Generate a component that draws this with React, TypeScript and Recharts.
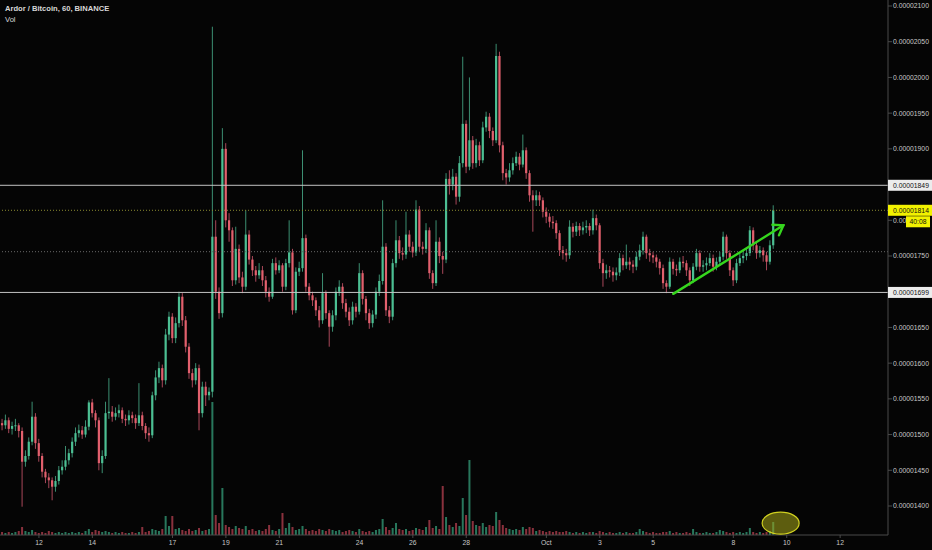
import React from 'react';
import { ComposedChart, Bar, XAxis, YAxis, ReferenceLine, ReferenceDot } from 'recharts';

// 3h candles, x = hours from Sep 12 00:00
const START_HOUR = -33;
const STEP = 3;
const firstOpen = 1516;

// prices in 1e-8 BTC
const closes = [
  1513, 1520, 1508, 1512, 1513, 1505, 1462, 1470, 1490, 1525,
  1488, 1470, 1448, 1440, 1436, 1427, 1435, 1450, 1455, 1464,
  1474, 1490, 1502, 1506, 1500, 1511, 1545, 1530, 1520, 1460,
  1470, 1530, 1532, 1525, 1530, 1534, 1522, 1520, 1527, 1523,
  1516, 1527, 1512, 1502, 1499, 1555, 1580, 1593, 1576, 1640,
  1665, 1635, 1656, 1693, 1660, 1623, 1586, 1576, 1593, 1530,
  1567, 1555, 1560, 1777, 1700, 1670, 1900, 1800, 1786, 1716,
  1760, 1720, 1707, 1780, 1745, 1730, 1723, 1730, 1716, 1700,
  1693, 1740, 1730, 1737, 1707, 1740, 1755, 1674, 1728, 1733,
  1775, 1707, 1695, 1688, 1674, 1660, 1698, 1670, 1651, 1667,
  1700, 1707, 1684, 1672, 1660, 1679, 1672, 1726, 1690, 1670,
  1656, 1668, 1700, 1715, 1763, 1674, 1665, 1740, 1772, 1754,
  1752, 1780, 1763, 1755, 1815, 1763, 1760, 1786, 1726, 1712,
  1770, 1750, 1745, 1858, 1850, 1861, 1833, 1880, 1935, 1875,
  1912, 1880, 1905, 1884, 1930, 1945, 1925, 1912, 2030, 1905,
  1866, 1860, 1870, 1880, 1889, 1878, 1898, 1866, 1835, 1828,
  1835, 1828, 1812, 1805, 1798, 1796, 1782, 1758, 1754, 1751,
  1791, 1784, 1792, 1786, 1790, 1792, 1786, 1803, 1793, 1740,
  1726, 1730, 1728, 1723, 1727, 1747, 1737, 1742, 1738, 1735,
  1749, 1758, 1777, 1754, 1751, 1748, 1742, 1733, 1712, 1707,
  1742, 1732, 1730, 1742, 1740, 1730, 1716, 1735, 1754, 1735,
  1737, 1740, 1747, 1735, 1742, 1749, 1777, 1754, 1730, 1716,
  1740, 1747, 1750, 1754, 1786, 1765, 1754, 1758, 1751, 1742,
  1765, 1814,
];

const highs = [
  1522, 1528, 1524, 1518, 1522, 1516, 1510, 1478, 1496, 1546,
  1530, 1494, 1474, 1452, 1446, 1440, 1442, 1456, 1464, 1484,
  1480, 1496, 1510, 1514, 1512, 1520, 1548, 1550, 1534, 1524,
  1478, 1546, 1579, 1540, 1538, 1542, 1538, 1528, 1534, 1532,
  1528, 1572, 1532, 1516, 1510, 1560, 1590, 1602, 1598, 1648,
  1672, 1670, 1664, 1700, 1698, 1666, 1628, 1592, 1600, 1598,
  1574, 1574, 1566, 2071, 1800, 1706, 1929, 1908, 1810, 1790,
  1791, 1766, 1728, 1814, 1786, 1750, 1736, 1740, 1736, 1722,
  1706, 1746, 1748, 1744, 1740, 1746, 1800, 1760, 1734, 1742,
  1898, 1780, 1712, 1700, 1692, 1680, 1726, 1702, 1674, 1674,
  1706, 1716, 1712, 1690, 1678, 1686, 1684, 1740, 1730, 1694,
  1676, 1674, 1706, 1724, 1828, 1768, 1680, 1746, 1800, 1778,
  1762, 1812, 1786, 1770, 1828, 1820, 1770, 1796, 1790, 1730,
  1800, 1776, 1756, 1866, 1870, 1872, 1866, 1890, 2029, 1940,
  2000, 1918, 1914, 1910, 1938, 1952, 1950, 1930, 2047, 2036,
  1910, 1872, 1880, 1888, 1896, 1894, 1920, 1902, 1870, 1842,
  1842, 1840, 1832, 1818, 1810, 1806, 1800, 1786, 1764, 1760,
  1800, 1796, 1798, 1796, 1798, 1800, 1796, 1815, 1808, 1796,
  1746, 1738, 1736, 1734, 1734, 1754, 1752, 1766, 1748, 1744,
  1756, 1766, 1784, 1780, 1760, 1756, 1752, 1746, 1738, 1716,
  1748, 1746, 1738, 1748, 1750, 1744, 1734, 1740, 1760, 1758,
  1744, 1748, 1754, 1752, 1748, 1756, 1784, 1780, 1758, 1734,
  1746, 1754, 1758, 1762, 1792, 1790, 1770, 1764, 1762, 1756,
  1772, 1821,
];

const lows = [
  1506, 1508, 1502, 1500, 1505, 1496, 1399, 1455, 1465, 1485,
  1480, 1462, 1440, 1432, 1425, 1408, 1420, 1430, 1444, 1450,
  1458, 1468, 1484, 1496, 1494, 1496, 1506, 1524, 1510, 1450,
  1446, 1466, 1522, 1518, 1520, 1524, 1516, 1512, 1514, 1516,
  1508, 1512, 1506, 1494, 1490, 1495, 1548, 1572, 1566, 1570,
  1632, 1628, 1628, 1650, 1652, 1615, 1578, 1566, 1570, 1506,
  1524, 1540, 1548, 1552, 1690, 1662, 1664, 1790, 1770, 1708,
  1710, 1712, 1698, 1702, 1738, 1722, 1714, 1718, 1708, 1692,
  1686, 1690, 1724, 1726, 1700, 1702, 1734, 1668, 1670, 1722,
  1728, 1700, 1688, 1680, 1666, 1650, 1655, 1662, 1623, 1644,
  1660, 1694, 1676, 1664, 1652, 1654, 1664, 1668, 1682, 1660,
  1648, 1650, 1662, 1694, 1710, 1666, 1656, 1660, 1734, 1746,
  1744, 1746, 1756, 1748, 1750, 1756, 1752, 1754, 1718, 1704,
  1708, 1740, 1725, 1740, 1836, 1842, 1822, 1826, 1874, 1866,
  1870, 1872, 1874, 1876, 1880, 1924, 1915, 1904, 1908, 1895,
  1856, 1850, 1854, 1864, 1876, 1870, 1874, 1858, 1826, 1784,
  1820, 1820, 1804, 1796, 1790, 1788, 1774, 1750, 1745, 1742,
  1746, 1776, 1778, 1778, 1780, 1782, 1778, 1780, 1786, 1732,
  1707, 1718, 1720, 1714, 1716, 1722, 1730, 1732, 1730, 1726,
  1730, 1744, 1752, 1746, 1742, 1740, 1734, 1724, 1704, 1698,
  1704, 1724, 1722, 1726, 1734, 1722, 1708, 1712, 1730, 1728,
  1728, 1730, 1736, 1728, 1730, 1738, 1744, 1746, 1722, 1708,
  1712, 1736, 1740, 1744, 1750, 1758, 1746, 1748, 1742, 1730,
  1738, 1760,
];

const volumes = [
  3, 2, 3, 2, 3, 4, 8, 4, 3, 5,
  3, 2, 3, 2, 4, 3, 2, 3, 2, 3,
  2, 3, 2, 3, 2, 4, 6, 3, 5, 4,
  3, 4, 3, 2, 3, 2, 3, 2, 2, 3,
  2, 3, 8, 3, 4, 6, 5, 4, 6, 19,
  9, 19, 6, 7, 5, 4, 6, 4, 5, 7,
  4, 5, 6, 133, 20, 12, 47, 10, 8, 6,
  9, 7, 6, 9, 5, 6, 4, 5, 4, 6,
  10, 5, 4, 6, 22, 7, 12, 8, 5, 6,
  9, 6, 4, 5, 4, 6, 5, 4, 6, 5,
  4, 5, 3, 4, 5, 4, 3, 6, 4, 3,
  4, 3, 5, 6, 16, 8, 5, 7, 12, 6,
  5, 6, 4, 5, 7, 6, 5, 8, 15, 7,
  9, 6, 49, 18, 10, 8, 12, 9, 37, 20,
  75, 14, 10, 9, 12, 8, 10, 9, 23, 15,
  10, 7, 6, 5, 6, 5, 8, 6, 8, 7,
  4, 5, 4, 3, 4, 3, 4, 3, 3, 4,
  3, 2, 3, 2, 3, 2, 3, 3, 2, 4,
  3, 2, 3, 2, 2, 3, 2, 3, 2, 2,
  3, 6, 4, 3, 2, 3, 2, 2, 3, 3,
  4, 2, 3, 2, 2, 3, 2, 6, 3, 2,
  2, 3, 2, 2, 3, 5, 4, 3, 2, 3,
  2, 3, 2, 3, 7, 3, 2, 3, 2, 3,
  4, 13,
];

const dayTicks = [0, 48, 120, 168, 216, 288, 336, 384, 456, 504, 552, 624, 672, 720];
const dayLabels = ['12', '14', '17', '19', '21', '24', '26', '28', 'Oct', '3', '5', '8', '10', '12'];
const priceTicks = [1400, 1450, 1500, 1550, 1600, 1650, 1699, 1750, 1800, 1814, 1849, 1900, 1950, 2000, 2050, 2100];

const LEVEL_HIGH = 1849;
const LEVEL_LOW = 1699;
const LAST_PRICE = 1814;
const HIDDEN_TICK = 1800; // mostly covered by the countdown box
const MID_LEVEL = 1756;
const countdown = '40:08';

const UP = '#4cbf93';
const DOWN = '#e2606d';
const WICK_UP = '#3c8f72';
const WICK_DOWN = '#a9485a';
const FONT = '"Liberation Sans", Arial, sans-serif';

const data = closes.map((c, i) => ({
  t: START_HOUR + i * STEP,
  o: i === 0 ? firstOpen : closes[i - 1],
  h: highs[i],
  l: lows[i],
  c,
  vol: volumes[i],
}));

const fmt = (v: number) => (v / 1e8).toFixed(8);

const Candle = (props: any) => {
  const { x, y, width, height, payload } = props;
  if (!payload || height == null) return null;
  const top = Math.min(y, y + height);
  const hgt = Math.abs(height);
  const { o, h, l, c } = payload;
  const k = hgt / (h - l || 1);
  const cx = x + width / 2;
  const yO = top + (h - o) * k;
  const yC = top + (h - c) * k;
  const up = c >= o;
  return (
    <g>
      <line x1={cx} x2={cx} y1={top} y2={top + hgt} stroke={up ? WICK_UP : WICK_DOWN} strokeWidth={1} />
      <rect x={cx - 1.1} y={Math.min(yO, yC)} width={2.2} height={Math.max(Math.abs(yC - yO), 1)} fill={up ? UP : DOWN} />
    </g>
  );
};

const VolBar = (props: any) => {
  const { x, y, width, height, payload } = props;
  if (!payload) return null;
  const up = payload.c >= payload.o;
  return (
    <rect x={x + width / 2 - 1} y={y} width={2} height={Math.max(height, 0)} fill={up ? '#2f8c6c' : '#a23a48'} fillOpacity={0.85} />
  );
};

const PriceTick = (props: any) => {
  const { x, y, payload } = props;
  const v = payload.value;
  if (v === LEVEL_HIGH || v === LEVEL_LOW) {
    return (
      <g>
        <rect x={888} y={y - 5.5} width={44} height={11} fill="#ececec" />
        <text x={x} y={y} dy="0.35em" fontSize={6.8} fontFamily={FONT} fill="#111">{fmt(v)}</text>
      </g>
    );
  }
  if (v === LAST_PRICE) {
    return (
      <g>
        <rect x={888} y={y - 5.5} width={44} height={11} fill="#f2f200" />
        <text x={x} y={y} dy="0.35em" fontSize={6.8} fontFamily={FONT} fill="#111">{fmt(v)}</text>
        <rect x={906} y={y + 6} width={24} height={11} fill="#f2f200" />
        <text x={918} y={y + 11.5} dy="0.35em" textAnchor="middle" fontSize={6.8} fontFamily={FONT} fill="#111">{countdown}</text>
      </g>
    );
  }
  if (v === HIDDEN_TICK) {
    // only the start of this label shows left of the countdown box
    return (
      <text x={x} y={y} dy="0.35em" fontSize={6.8} fontFamily={FONT} fill="#c8c8c8">{fmt(v).slice(0, 5)}</text>
    );
  }
  return (
    <text x={x} y={y} dy="0.35em" fontSize={6.8} fontFamily={FONT} fill="#c8c8c8">{fmt(v)}</text>
  );
};

const Arrow = (props: any) => {
  const { x1, y1, x2, y2 } = props;
  const a = Math.atan2(y2 - y1, x2 - x1);
  const len = 11;
  const spread = 0.6;
  const ax1 = x2 - len * Math.cos(a - spread);
  const ay1 = y2 - len * Math.sin(a - spread);
  const ax2 = x2 - len * Math.cos(a + spread);
  const ay2 = y2 - len * Math.sin(a + spread);
  return (
    <g stroke="#36d61e" strokeWidth={2.4} strokeLinecap="round" fill="none">
      <line x1={x1} y1={y1} x2={x2} y2={y2} />
      <polyline points={`${ax1},${ay1} ${x2},${y2} ${ax2},${ay2}`} />
    </g>
  );
};

const Ellipse = (props: any) => (
  <ellipse cx={props.cx} cy={props.cy} rx={18.5} ry={11} fill="#a6a618" fillOpacity={0.55} stroke="#d0d020" strokeWidth={1.2} />
);

export default function App() {
  return (
    <div style={{ position: 'fixed', left: 0, top: 0, width: 932, height: 550, background: '#050505', overflow: 'hidden' }}>
      <div style={{ position: 'absolute', left: 5, top: 3, fontFamily: FONT, fontSize: 7.6, lineHeight: '11px', color: '#d8d8d8' }}>
        <div style={{ fontWeight: 'bold' }}>Ardor / Bitcoin, 60, BINANCE</div>
        <div>Vol</div>
      </div>
      <ComposedChart width={932} height={550} data={data} margin={{ top: 0, right: 0, bottom: 0, left: 0 }}>
        <XAxis
          xAxisId="p"
          dataKey="t"
          type="number"
          domain={[-35, 763]}
          allowDataOverflow
          ticks={dayTicks}
          interval={0}
          tickFormatter={(v: number) => dayLabels[dayTicks.indexOf(v)]}
          height={15}
          stroke="#4a4a4a"
          tick={{ fill: '#c8c8c8', fontSize: 6.8, fontFamily: FONT }}
          tickSize={3}
          tickMargin={2}
        />
        <XAxis xAxisId="v" dataKey="t" type="number" domain={[-35, 763]} allowDataOverflow hide />
        <YAxis
          yAxisId="p"
          orientation="right"
          width={44}
          domain={[1359.4, 2108.4]}
          allowDataOverflow
          ticks={priceTicks}
          interval={0}
          tick={<PriceTick />}
          tickSize={4}
          tickMargin={1}
          stroke="#4a4a4a"
        />
        <YAxis yAxisId="v" domain={[0, 535]} allowDataOverflow hide />

        <Bar xAxisId="v" yAxisId="v" dataKey="vol" barSize={3} shape={VolBar} isAnimationActive={false} />

        <ReferenceLine xAxisId="p" yAxisId="p" y={MID_LEVEL} stroke="#6a6a6a" strokeDasharray="1 2" />
        <ReferenceLine xAxisId="p" yAxisId="p" y={LAST_PRICE} stroke="#8c8c30" strokeDasharray="1 2" />
        <ReferenceLine xAxisId="p" yAxisId="p" y={LEVEL_HIGH} stroke="#c4c4c4" />
        <ReferenceLine xAxisId="p" yAxisId="p" y={LEVEL_LOW} stroke="#c4c4c4" />

        <Bar xAxisId="p" yAxisId="p" dataKey={(d: any) => [d.l, d.h]} barSize={3} shape={Candle} isAnimationActive={false} />

        <ReferenceLine
          xAxisId="p"
          yAxisId="p"
          segment={[{ x: 570, y: 1697 }, { x: 669, y: 1793 }]}
          shape={Arrow}
          ifOverflow="visible"
        />
        <ReferenceDot xAxisId="p" yAxisId="p" x={666.5} y={1376} r={11} shape={Ellipse} ifOverflow="visible" />
      </ComposedChart>
    </div>
  );
}
